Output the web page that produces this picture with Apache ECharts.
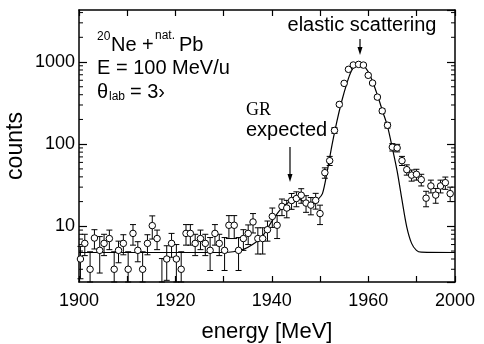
<!DOCTYPE html>
<html>
<head>
<meta charset="utf-8">
<script src="https://cdn.jsdelivr.net/npm/echarts@6/dist/echarts.min.js"></script>
<style>
  html, body { margin: 0; padding: 0; background: #ffffff; }
  #chart { width: 484px; height: 344px; }
</style>
</head>
<body>
<div id="chart"></div>
<script>
// measured spectrum (open circles) with error bars
const energy = [1900.3, 1901.2, 1902.3, 1903.2, 1904.3, 1905.2, 1906.3, 1907.3, 1908.2, 1909.2,
  1910.2, 1911.2, 1912.2, 1913.2, 1914.2, 1915.2, 1916.2, 1917.2, 1918.2, 1919.2,
  1920.2, 1921.2, 1922.2, 1923.1, 1924.1, 1925.2, 1926.2, 1927.2, 1928.2, 1929.1,
  1930.2, 1931.1, 1932.2, 1933.1, 1934.1, 1935.1, 1936.1, 1937.1, 1938.1, 1939.1,
  1940.1, 1941.1, 1942.1, 1943.1, 1944.1, 1945.1, 1946.1, 1947.1, 1948.1, 1949.1,
  1950.0, 1951.0, 1952.0, 1953.0, 1954.0, 1955.0, 1955.9, 1956.9, 1958.0, 1959.0,
  1960.0, 1960.9, 1961.9, 1962.9, 1964.0, 1965.0, 1966.0, 1967.0, 1968.0, 1969.0,
  1970.0, 1971.0, 1972.0, 1973.0, 1974.0, 1975.0, 1976.0, 1977.0]
const counts = [4.0, 6.2, 3.0, 7.2, 5.1, 6.2, 7.1, 3.0, 5.1, 6.2,
  3.0, 8.2, 5.1, 3.0, 6.2, 10.2, 7.1, 2.05, 4.0, 6.2,
  4.0, 3.0, 8.2, 8.2, 6.2, 7.1, 6.2, 5.1, 8.2, 6.2,
  5.1, 10.3, 10.3, 5.1, 7.1, 8.2, 11.3, 7.1, 7.1, 9.1,
  13.2, 10.3, 17.5, 16.7, 20.6, 21.8, 23.9, 19.2, 18.1, 20.7,
  14.3, 45, 63, 147, 305, 550, 815, 920, 936, 918,
  689, 555, 374, 254, 170, 92, 90, 63, 49, 42,
  43, 37, 22, 31, 24, 31, 34, 25]
const countErr = [1.7, 1.8, 1.9, 1.9, 2.4, 1.8, 1.9, 1.9, 1.5, 1.7,
  1.9, 2.3, 1.4, 1.9, 1.7, 3.2, 1.9, 2.0, 1.8, 2.0,
  2.0, 1.9, 2.3, 2.3, 1.8, 1.9, 1.8, 2.2, 2.3, 1.8,
  2.2, 3.2, 3.2, 2.2, 2.0, 2.2, 3.0, 2.5, 2.5, 2.5,
  3.5, 3.2, 4.0, 4.0, 4.5, 4.5, 4.8, 4.4, 4.3, 4.5,
  3.8, 6.5, 8, 12, 17, 23, 29, 30, 30, 30,
  26, 24, 19, 16, 13, 9.5, 9.5, 8, 7, 6.5,
  6.5, 6, 4.7, 5.5, 4.9, 5.5, 5.8, 5]

// fit curve
const fitEnergy = [1900, 1930, 1932, 1934, 1936, 1938, 1940, 1942, 1944, 1945.5,
  1947, 1948.5, 1949.5, 1950.5, 1951.5, 1952.5, 1953.5, 1954.5, 1955.5, 1956.5,
  1957.5, 1958.2, 1959, 1960, 1961, 1962, 1963, 1964, 1965, 1966,
  1967, 1968, 1969, 1970, 1971, 1978]
const fitCounts = [4.8, 4.8, 4.9, 5.2, 6.0, 7.5, 11.5, 16.5, 20.5, 21.5,
  19.5, 18.5, 21, 25, 47, 99, 190, 333, 535, 780,
  910, 950, 910, 760, 560, 380, 250, 165, 90, 47,
  21, 9.8, 6.2, 5.1, 4.85, 4.8]

// axes
const xMin = 1900
const xMax = 1978
const xTickValues = [1900, 1920, 1940, 1960, 1978]
const xTickLabels = ['1900', '1920', '1940', '1960', '2000']
const yMin = 2.1
const yMax = 4300
const yTickValues = [10, 100, 1000]
const yMinorTicks = [3, 4, 5, 6, 7, 8, 9, 20, 30, 40, 50, 60, 70, 80, 90,
  200, 300, 400, 500, 600, 700, 800, 900, 2000, 3000, 4000]

const sans = "'Liberation Sans', Arial, sans-serif"
const serif = "'Liberation Serif', 'Times New Roman', serif"

const chart = echarts.init(document.getElementById('chart'))

const frameLine = { show: true, lineStyle: { color: '#000', width: 1.5 } }

const pointData = energy.map((e, i) => [e, counts[i]])
const errData = energy.map((e, i) => [e, Math.max(counts[i] - countErr[i], yMin), counts[i] + countErr[i]])
const fitData = fitEnergy.map((e, i) => [e, fitCounts[i]])

chart.setOption({
  backgroundColor: '#ffffff',
  animation: false,
  grid: { left: 79, right: 29, top: 10, bottom: 62, containLabel: false, outerBoundsMode: 'none' },
  xAxis: [
    {
      type: 'value',
      position: 'bottom',
      min: xMin,
      max: xMax,
      interval: 10,
      name: 'energy [MeV]',
      nameLocation: 'middle',
      nameGap: 39,
      nameMoveOverlap: false,
      nameTextStyle: { color: '#000', fontSize: 22, fontFamily: sans },
      axisLine: frameLine,
      axisTick: { inside: true, length: 6, lineStyle: { color: '#000', width: 1.2 } },
      axisLabel: {
        margin: 10,
        color: '#000',
        fontSize: 18,
        fontFamily: sans,
        showMinLabel: true,
        showMaxLabel: true,
        formatter: (v) => {
          const idx = xTickValues.indexOf(Math.round(v))
          return idx >= 0 ? xTickLabels[idx] : ''
        },
      },
      splitLine: { show: false },
    },
    {
      type: 'value',
      position: 'top',
      min: xMin,
      max: xMax,
      interval: 10,
      axisLine: frameLine,
      axisTick: { inside: true, length: 6, lineStyle: { color: '#000', width: 1.2 } },
      axisLabel: { show: false },
      splitLine: { show: false },
    },
  ],
  yAxis: [
    {
      type: 'log',
      logBase: 10,
      position: 'left',
      min: yMin,
      max: yMax,
      name: 'counts',
      nameLocation: 'middle',
      nameGap: 52,
      nameMoveOverlap: false,
      nameTextStyle: { color: '#000', fontSize: 23, fontFamily: sans },
      axisLine: frameLine,
      axisTick: { inside: true, length: 8, lineStyle: { color: '#000', width: 1.2 } },
      axisLabel: {
        margin: 4,
        color: '#000',
        fontSize: 18,
        fontFamily: sans,
        showMinLabel: false,
        showMaxLabel: false,
        formatter: (v) => {
          const r = Math.round(v)
          return yTickValues.indexOf(r) >= 0 ? String(r) : ''
        },
      },
      splitLine: { show: false },
    },
    {
      type: 'log',
      logBase: 10,
      position: 'right',
      min: yMin,
      max: yMax,
      axisLine: frameLine,
      axisTick: { inside: true, length: 8, lineStyle: { color: '#000', width: 1.2 } },
      axisLabel: { show: false },
      splitLine: { show: false },
    },
  ],
  series: [
    {
      // log minor ticks on left and right frame
      type: 'custom',
      silent: true,
      data: yMinorTicks.map((v) => [xMin, v]),
      renderItem: (params, api) => {
        const p = api.coord([xMin, api.value(1)])
        const cs = params.coordSys
        const style = { stroke: '#000', lineWidth: 1 }
        return {
          type: 'group',
          children: [
            { type: 'line', shape: { x1: cs.x, y1: p[1], x2: cs.x + 4, y2: p[1] }, style },
            { type: 'line', shape: { x1: cs.x + cs.width - 4, y1: p[1], x2: cs.x + cs.width, y2: p[1] }, style },
          ],
        }
      },
      z: 1,
    },
    {
      name: 'fit',
      type: 'line',
      data: fitData,
      smooth: 0.3,
      symbol: 'none',
      lineStyle: { color: '#000', width: 1.2 },
      z: 2,
    },
    {
      name: 'error',
      type: 'custom',
      data: errData,
      renderItem: (params, api) => {
        const x = api.value(0)
        const lo = api.coord([x, api.value(1)])
        const hi = api.coord([x, api.value(2)])
        const style = { stroke: '#000', lineWidth: 1 }
        return {
          type: 'group',
          children: [
            { type: 'line', shape: { x1: lo[0], y1: lo[1], x2: hi[0], y2: hi[1] }, style },
            { type: 'line', shape: { x1: hi[0] - 3, y1: hi[1], x2: hi[0] + 3, y2: hi[1] }, style },
            { type: 'line', shape: { x1: lo[0] - 3, y1: lo[1], x2: lo[0] + 3, y2: lo[1] }, style },
          ],
        }
      },
      z: 3,
    },
    {
      name: 'data',
      type: 'scatter',
      data: pointData,
      symbol: 'circle',
      symbolSize: 6.5,
      itemStyle: { color: '#fff', borderColor: '#000', borderWidth: 1, opacity: 1 },
      z: 4,
    },
  ],
  graphic: [
    { type: 'text', x: 97, y: 37, style: { text: '20', font: '12px ' + sans, fill: '#000', textVerticalAlign: 'middle' } },
    { type: 'text', x: 111, y: 45, style: { text: 'Ne +', font: '20px ' + sans, fill: '#000', textVerticalAlign: 'middle' } },
    { type: 'text', x: 155, y: 36, style: { text: 'nat.', font: '12px ' + sans, fill: '#000', textVerticalAlign: 'middle' } },
    { type: 'text', x: 179, y: 45, style: { text: 'Pb', font: '20px ' + sans, fill: '#000', textVerticalAlign: 'middle' } },
    { type: 'text', x: 97, y: 68, style: { text: 'E = 100 MeV/u', font: '20px ' + sans, fill: '#000', textVerticalAlign: 'middle' } },
    { type: 'text', x: 97, y: 92, style: { text: 'θ', font: '20px ' + sans, fill: '#000', textVerticalAlign: 'middle' } },
    { type: 'text', x: 109, y: 97, style: { text: 'lab', font: '12px ' + sans, fill: '#000', textVerticalAlign: 'middle' } },
    { type: 'text', x: 130, y: 92, style: { text: '= 3›', font: '20px ' + sans, fill: '#000', textVerticalAlign: 'middle' } },
    { type: 'text', x: 362, y: 25, style: { text: 'elastic scattering', font: '20px ' + sans, fill: '#000', textAlign: 'center', textVerticalAlign: 'middle' } },
    { type: 'line', shape: { x1: 360, y1: 39, x2: 360, y2: 49 }, style: { stroke: '#000', lineWidth: 1.2 } },
    { type: 'polygon', shape: { points: [[357.5, 47], [362.5, 47], [360, 55]] }, style: { fill: '#000' } },
    { type: 'text', x: 246, y: 110, style: { text: 'GR', font: '18px ' + serif, fill: '#000', textVerticalAlign: 'middle' } },
    { type: 'text', x: 246, y: 130, style: { text: 'expected', font: '20px ' + sans, fill: '#000', textVerticalAlign: 'middle' } },
    { type: 'line', shape: { x1: 290, y1: 147, x2: 290, y2: 175 }, style: { stroke: '#000', lineWidth: 1.2 } },
    { type: 'polygon', shape: { points: [[287.5, 174], [292.5, 174], [290, 182]] }, style: { fill: '#000' } },
  ],
})
</script>
</body>
</html>
